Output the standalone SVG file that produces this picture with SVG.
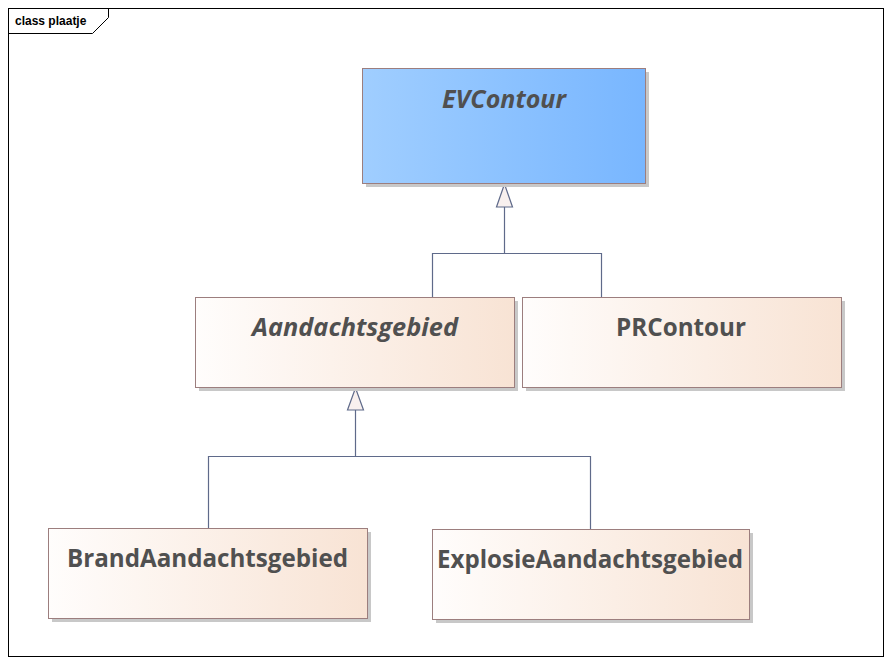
<svg xmlns="http://www.w3.org/2000/svg" width="892" height="663" viewBox="0 0 892 663">
<style>
.frame{fill:none;stroke:#000;stroke-width:1}
.node{stroke:#9c7e7e;stroke-width:1}
.shadow{fill:#c8c8c8}
.blue{fill:url(#gBlue)}
.cream{fill:url(#gCream)}
.name{font-family:"Open Sans","Noto Sans","DejaVu Sans",sans-serif;font-weight:bold;font-size:24.5px;fill:#505050;text-anchor:middle}
.abs{font-style:italic}
.conn{fill:none;stroke:#5f6a8a;stroke-width:1.2}
.head{fill:#f8f0ee;stroke:#5f6a8a;stroke-width:1.2}
.lbl{font-family:"Liberation Sans",Arial,sans-serif;font-weight:bold;font-size:12px;fill:#000}
</style>
<defs>
<linearGradient id="gBlue" x1="0" y1="0" x2="1" y2="0">
<stop offset="0" stop-color="#a0ceff"/>
<stop offset="1" stop-color="#78b6ff"/>
</linearGradient>
<linearGradient id="gCream" x1="0" y1="0" x2="1" y2="0">
<stop offset="0" stop-color="#fffdfc"/>
<stop offset="1" stop-color="#f8e3d4"/>
</linearGradient>
</defs>
<rect x="0" y="0" width="892" height="663" fill="#fff"/>
<g id="frame">
<rect class="frame" x="8.5" y="8.5" width="875" height="648"/>
<path class="frame" d="M8.5 33.5 H92.5 L108.5 17.5 V8.5"/>
<text class="lbl" x="15" y="25">class plaatje</text>
</g>
<g id="connectors">
<path class="conn" d="M504.5 207 V253.5 H432.5 V297 M504.5 253.5 H601.5 V297"/>
<path class="head" d="M504.5 184 L496.5 207 H512.5 Z"/>
<path class="conn" d="M355.5 410 V456.5 H208.5 V528 M355.5 456.5 H590.5 V529"/>
<path class="head" d="M355.5 388 L347.5 410 H363.5 Z"/>
</g>
<g id="EVContour">
<rect class="shadow" x="366" y="72" width="283" height="115"/>
<rect class="node blue" x="362.5" y="68.5" width="283" height="115"/>
<text class="name abs" x="504" y="108" textLength="124" lengthAdjust="spacingAndGlyphs">EVContour</text>
</g>
<g id="Aandachtsgebied">
<rect class="shadow" x="199" y="301" width="319" height="90"/>
<rect class="node cream" x="195.5" y="297.5" width="319" height="90"/>
<text class="name abs" x="355" y="336" textLength="206" lengthAdjust="spacingAndGlyphs">Aandachtsgebied</text>
</g>
<g id="PRContour">
<rect class="shadow" x="526" y="301" width="319" height="90"/>
<rect class="node cream" x="522.5" y="297.5" width="319" height="90"/>
<text class="name" x="681" y="336" textLength="130" lengthAdjust="spacingAndGlyphs">PRContour</text>
</g>
<g id="BrandAandachtsgebied">
<rect class="shadow" x="52" y="532" width="319" height="90"/>
<rect class="node cream" x="48.5" y="528.5" width="319" height="90"/>
<text class="name" x="207.5" y="566.5" textLength="281" lengthAdjust="spacingAndGlyphs">BrandAandachtsgebied</text>
</g>
<g id="ExplosieAandachtsgebied">
<rect class="shadow" x="436" y="533" width="317" height="90"/>
<rect class="node cream" x="432.5" y="529.5" width="317" height="90"/>
<text class="name" x="590" y="567.5" textLength="306" lengthAdjust="spacingAndGlyphs">ExplosieAandachtsgebied</text>
</g>
</svg>
